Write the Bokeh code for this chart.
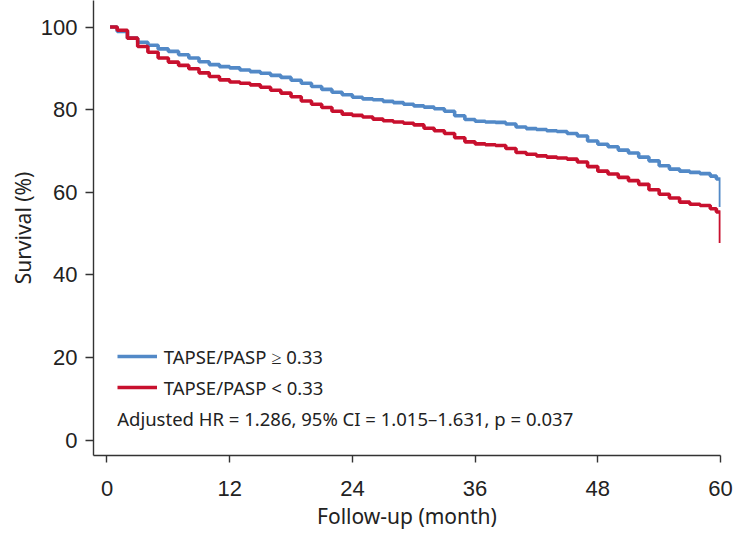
from bokeh.plotting import figure
from bokeh.models import Range1d, Legend, LegendItem, Label, FixedTicker, ColumnDataSource
from bokeh.embed import file_html
from bokeh.resources import INLINE

# ---- data ----
months = [0.3, 1, 2, 3, 4, 5, 6, 7, 8, 9, 10, 11, 12, 13, 14, 15, 16, 17, 18, 19,
          20, 21, 22, 23, 24, 25, 26, 27, 28, 29, 30, 31, 32, 33, 34, 35, 36, 37, 38, 39,
          40, 41, 42, 43, 44, 45, 46, 47, 48, 49, 50, 51, 52, 53, 54, 55, 56, 57, 58, 59,
          59.6, 60]
surv_high = [100, 98.9, 97.3, 96.3, 95.6, 94.7, 94.1, 93.3, 92.5, 91.6, 90.9, 90.4, 90.1,
             89.6, 89.2, 88.8, 88.3, 87.8, 87.1, 86.4, 85.6, 84.9, 84.2, 83.6, 83.0, 82.6,
             82.4, 82.0, 81.7, 81.3, 80.9, 80.6, 80.2, 79.6, 78.5, 77.6, 77.2, 77.0, 76.9,
             76.5, 75.8, 75.4, 75.2, 74.9, 74.7, 74.2, 73.6, 72.4, 71.6, 71.0, 70.2, 69.5,
             68.5, 67.6, 66.4, 65.6, 65.1, 64.8, 64.5, 63.9, 63.2, 56.4]
surv_low = [100, 99.2, 97.3, 95.3, 93.9, 92.5, 91.5, 90.7, 89.9, 88.9, 88.0, 87.2, 86.7,
            86.4, 86.0, 85.4, 84.7, 84.0, 83.1, 82.1, 81.3, 80.5, 79.6, 78.9, 78.6, 78.2,
            77.7, 77.3, 77.0, 76.7, 76.3, 75.5, 74.9, 74.2, 73.2, 72.2, 71.7, 71.5, 71.3,
            70.6, 69.6, 69.2, 68.8, 68.5, 68.3, 68.0, 67.3, 66.2, 65.1, 64.4, 63.6, 62.8,
            61.9, 60.6, 59.5, 58.6, 57.6, 57.1, 56.8, 56.0, 55.2, 47.7]
x_ticks = [0, 12, 24, 36, 48, 60]
y_ticks = [0, 20, 40, 60, 80, 100]
label_high = "TAPSE/PASP \u2265 0.33"
label_low = "TAPSE/PASP < 0.33"
note = "Adjusted HR = 1.286, 95% CI = 1.015\u20131.631, p = 0.037"

BLUE = "#5289c7"
RED = "#c8102e"
AXIS = "#333333"
TXT = "#222222"

p = figure(width=737, height=533, output_backend="svg", toolbar_location=None,
           x_range=Range1d(-1.32, 60), y_range=Range1d(-3.75, 106.42),
           min_border_left=93, min_border_right=17, min_border_top=0, min_border_bottom=78)
p.outline_line_color = None
p.grid.grid_line_color = None
p.background_fill_color = "white"
p.border_fill_color = "white"

src_high = ColumnDataSource(dict(t=months, s=surv_high))
src_low = ColumnDataSource(dict(t=months, s=surv_low))
r_high = p.step("t", "s", source=src_high, mode="after", line_color=BLUE, line_width=3.6)
r_low = p.step("t", "s", source=src_low, mode="after", line_color=RED, line_width=3.6)

legend = Legend(items=[LegendItem(label=label_high, renderers=[r_high]),
                       LegendItem(label=label_low, renderers=[r_low])],
                location=(23.7, 54.7), padding=0, margin=0, spacing=5,
                glyph_width=40, glyph_height=26, label_height=26, label_standoff=7,
                label_text_font="Noto Sans", label_text_font_size="18.5px",
                label_text_color=TXT, background_fill_alpha=0, border_line_color=None)
p.add_layout(legend)

p.add_layout(Label(x=23.7, y=36.7, x_units="screen", y_units="screen", text=note,
                   text_font="Noto Sans", text_font_size="18.5px", text_color=TXT,
                   text_baseline="middle"))

for ax in (p.xaxis[0], p.yaxis[0]):
    ax.axis_line_color = AXIS
    ax.axis_line_width = 1.4
    ax.major_tick_line_color = AXIS
    ax.major_tick_line_width = 1.4
    ax.major_tick_in = 0
    ax.minor_tick_line_color = None
    ax.major_label_text_font = "Liberation Sans"
    ax.major_label_text_font_size = "22px"
    ax.major_label_text_color = TXT
    ax.axis_label_text_font = "Noto Sans"
    ax.axis_label_text_font_size = "21px"
    ax.axis_label_text_font_style = "normal"
    ax.axis_label_text_color = TXT

p.xaxis.ticker = FixedTicker(ticks=x_ticks)
p.yaxis.ticker = FixedTicker(ticks=y_ticks)
p.xaxis.major_tick_out = 7
p.yaxis.major_tick_out = 8
p.xaxis.major_label_standoff = 18
p.yaxis.major_label_standoff = 8
p.xaxis.axis_label = "Follow-up (month)"
p.yaxis.axis_label = "Survival (%)"
p.xaxis.axis_label_standoff = 3
p.yaxis.axis_label_standoff = 1

open("out.html", "w").write(file_html(p, INLINE))
